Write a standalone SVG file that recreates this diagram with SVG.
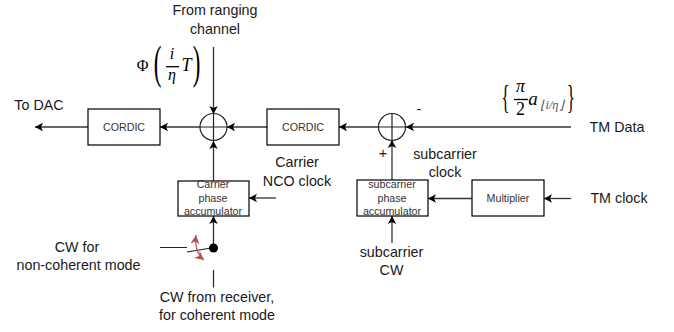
<svg xmlns="http://www.w3.org/2000/svg" width="674" height="332" viewBox="0 0 674 332">
<defs>
<marker id="r" markerUnits="userSpaceOnUse" markerWidth="12" markerHeight="12" refX="9" refY="5" orient="auto"><path d="M0 .5 L9 5 L0 9.500 L2.500 5 Z" fill="#b85450"/></marker>
<marker id="rs" markerUnits="userSpaceOnUse" markerWidth="12" markerHeight="12" refX="9" refY="5" orient="auto-start-reverse"><path d="M0 .5 L9 5 L0 9.500 L2.500 5 Z" fill="#b85450"/></marker>
<marker id="b" markerUnits="userSpaceOnUse" markerWidth="10" markerHeight="10" refX="9" refY="5" orient="auto"><path d="M1 .8 L9 5 L1 9.200 L3 5 Z" fill="#000"/></marker>
</defs>
<style>
.t{font-family:"Liberation Sans",Arial,sans-serif;font-size:14.300px;fill:#1a1a1a;text-anchor:middle}
.s{font-size:10.700px;fill:#333}
.box{fill:#fff;stroke:#000;stroke-width:1.200}
.c{fill:none;stroke:#222;stroke-width:1.200}
.l{fill:none;stroke:#333;stroke-width:1.300}
.m{font-family:"Liberation Serif","Times New Roman",serif;font-size:19px;fill:#000;text-anchor:middle}
.i{font-style:italic}
</style>
<rect width="674" height="332" fill="#fff"/>
<g id="connectors">
<path class="l" marker-end="url(#b)" d="M213.500 47V114"/>
<path class="l" marker-end="url(#b)" d="M213.500 181V141"/>
<path class="l" marker-end="url(#b)" d="M267 127H227"/>
<path class="l" marker-end="url(#b)" d="M200 127H160"/>
<path class="l" marker-end="url(#b)" d="M88 127H35"/>
<path class="l" marker-end="url(#b)" d="M378 127H339"/>
<path class="l" marker-end="url(#b)" d="M571 127H406"/>
<path class="l" marker-end="url(#b)" d="M392 180V140"/>
<path class="l" marker-end="url(#b)" d="M472 198.500H428"/>
<path class="l" marker-end="url(#b)" d="M571 198.500H544"/>
<path class="l" marker-end="url(#b)" d="M392 243V216"/>
<path class="l" marker-end="url(#b)" d="M276 198H249"/>
<path class="l" marker-end="url(#b)" d="M213.500 248V216"/>
<path class="c" d="M160 247.500H187M187 252L211 248M213.500 270V287.500"/>
<path fill="none" stroke="#b85450" stroke-width="1.200" marker-start="url(#rs)" marker-end="url(#r)" d="M196 235Q194 252 204 260"/>
</g>
<g id="sum1"><circle class="c" cx="213.500" cy="127" r="13.500"/><path class="c" d="M200 127H227M213.500 113.500V140.500"/></g>
<g id="sum2"><circle class="c" cx="392" cy="127" r="13.500"/><path class="c" d="M378.500 127H405.500M392 113.500V140.500"/></g>
<g id="cordic1"><rect class="box" x="88" y="109" width="72" height="36"/><text class="t s" x="124" y="131">CORDIC</text></g>
<g id="cordic2"><rect class="box" x="267" y="109" width="72" height="36"/><text class="t s" x="303" y="131">CORDIC</text></g>
<g id="carrier"><rect class="box" x="178" y="181" width="71" height="35"/><text class="t s" x="213" y="188">Carrier</text><text class="t s" x="213" y="201.700">phase</text><text class="t s" x="213" y="215">accumulator</text></g>
<g id="subcarrier"><rect class="box" x="357" y="180" width="71" height="36"/><text class="t s" x="392" y="188.300">subcarrier</text><text class="t s" x="392" y="202">phase</text><text class="t s" x="392" y="215">accumulator</text></g>
<g id="multiplier"><rect class="box" x="472" y="180" width="72" height="36"/><text class="t s" x="508" y="202">Multiplier</text></g>
<g id="switch"><circle cx="213.500" cy="248" r="4.500" fill="#000"/></g>
<g id="labels">
<text class="t" x="215" y="15">From ranging</text><text class="t" x="215" y="33.500">channel</text>
<text class="t" x="39" y="110">To DAC</text>
<text class="t" x="297" y="167">Carrier</text><text class="t" x="297" y="185.700">NCO clock</text>
<text class="t" x="445" y="158.500">subcarrier</text><text class="t" x="445" y="177">clock</text>
<text class="t" x="391.500" y="257">subcarrier</text><text class="t" x="391.500" y="275">CW</text>
<text class="t" x="77" y="252">CW for</text><text class="t" x="78.500" y="270">non-coherent mode</text>
<text class="t" x="217" y="302">CW from receiver,</text><text class="t" x="217" y="320">for coherent mode</text>
<text class="t" x="617" y="132">TM Data</text><text class="t" x="619" y="203">TM clock</text>
<text class="t" x="419" y="114">-</text><text class="t" x="383" y="158">+</text>
<text class="m" x="142.500" y="71" style="font-size:16px">Φ</text>
<text class="m" x="157.500" y="78" style="font-size:46px;font-weight:normal" transform="translate(157.500 0) scale(.5 1) translate(-157.500 0)">(</text>
<text class="m" x="196.500" y="78" style="font-size:46px" transform="translate(196.500 0) scale(.5 1) translate(-196.500 0)">)</text>
<text class="m i" x="172" y="59" style="font-size:16px">i</text>
<path d="M166 66.700H179" stroke="#000" stroke-width="1.300"/>
<text class="m i" x="172" y="80" style="font-size:16px">η</text>
<text class="m i" x="186.500" y="71" style="font-size:18px">T</text>
<text class="m" x="505.500" y="108" style="font-size:33px" transform="translate(505.500 0) scale(.5 1) translate(-505.500 0)">{</text>
<text class="m i" x="520.500" y="92" style="font-size:18px">π</text>
<path d="M514 99.500H528" stroke="#000" stroke-width="1.300"/>
<text class="m" x="520.500" y="115" style="font-size:18px">2</text>
<text class="m i" x="533" y="105">a</text>
<text class="m i" x="552" y="109" style="font-size:12.500px;fill:#555">⌊i/η⌋</text>
<text class="m" x="571" y="108" style="font-size:33px" transform="translate(571 0) scale(.5 1) translate(-571 0)">}</text>
</g>
</svg>
